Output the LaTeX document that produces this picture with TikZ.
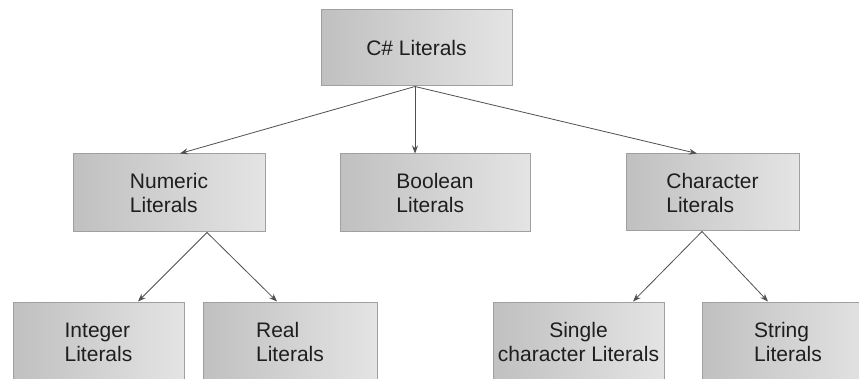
\documentclass[tikz,border=0pt]{standalone}
\usepackage{fontspec}
\setmainfont{Liberation Sans}
\usetikzlibrary{arrows.meta}
\definecolor{boxdark}{RGB}{192,192,192}
\definecolor{boxlight}{RGB}{228,228,228}
\definecolor{boxedge}{RGB}{160,160,160}
\definecolor{linkgray}{RGB}{80,80,80}
\definecolor{inkgray}{RGB}{30,30,30}
\begin{document}
\begin{tikzpicture}[x=1pt,y=-1pt,
  litbox/.style={rectangle, draw=boxedge, line width=1pt,
    left color=boxdark, right color=boxlight, inner sep=0pt,
    text=inkgray, font=\fontsize{21}{24}\selectfont, align=left},
  link/.style={draw=linkgray, line width=0.8pt,
    -{Stealth[length=8pt,width=6pt]}}]
\path[use as bounding box] (0,0) rectangle (859,379);
\clip (0,0) rectangle (859,379);
\fill[white] (0,0) rectangle (859,379);

% root and first level
\node[litbox, minimum width=191pt, minimum height=76pt] (lit) at (416.5,48) {C\# Literals};
\node[litbox, minimum width=192pt, minimum height=78pt] (num) at (169,193) {Numeric\\Literals};
\node[litbox, minimum width=190pt, minimum height=78pt] (bool) at (435,193) {Boolean\\Literals};
\node[litbox, minimum width=173pt, minimum height=77pt] (char) at (712.5,192.5) {Character\\Literals};

% second level
\node[litbox, minimum width=171pt, minimum height=80pt] (int) at (98.5,342) {Integer\\Literals};
\node[litbox, minimum width=174pt, minimum height=80pt] (real) at (290,342) {Real\\Literals};
\node[litbox, minimum width=171pt, minimum height=80pt, align=center] (single) at (578.5,342) {Single\\character Literals};
\node[litbox, minimum width=172pt, minimum height=80pt] (string) at (788,342) {String\\Literals};

% connectors
\draw[link] ([xshift=-1.5pt]lit.south) -- ([xshift=11pt]num.north);
\draw[link] ([xshift=-1.5pt]lit.south) -- ([xshift=-20pt]bool.north);
\draw[link] ([xshift=-1.5pt]lit.south) -- ([xshift=-15.5pt]char.north);
\draw[link] ([xshift=38pt]num.south) -- ([xshift=39.5pt]int.north);
\draw[link] ([xshift=38pt]num.south) -- ([xshift=-13pt]real.north);
\draw[link] ([xshift=-10.5pt]char.south) -- ([xshift=54.5pt]single.north);
\draw[link] ([xshift=-10.5pt]char.south) -- ([xshift=-20pt]string.north);
\end{tikzpicture}
\end{document}
